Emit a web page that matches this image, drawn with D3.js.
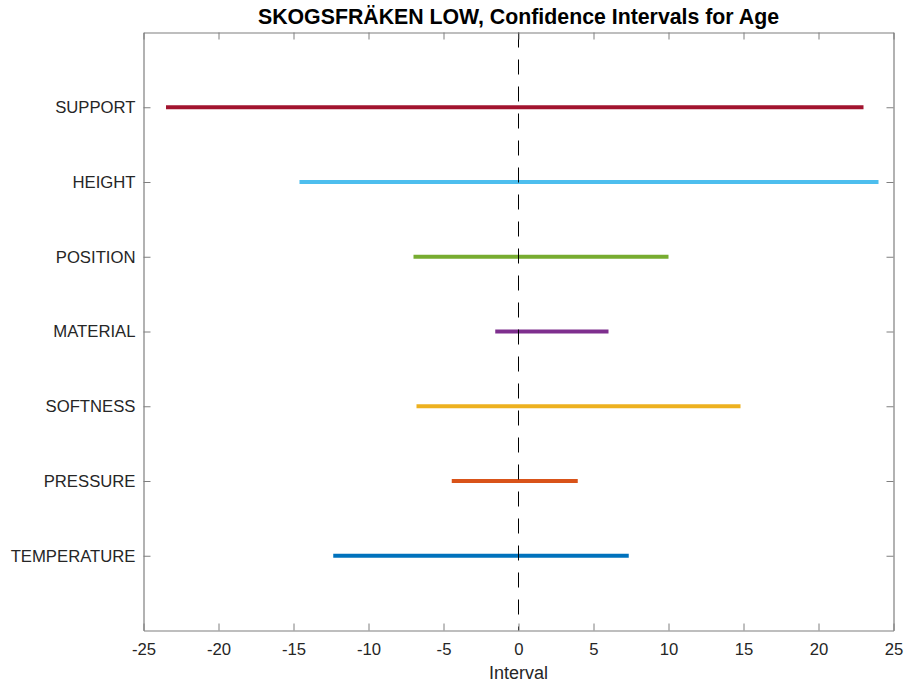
<!DOCTYPE html>
<html><head><meta charset="utf-8">
<script src="https://cdn.jsdelivr.net/npm/d3@7"></script>
<style>body{margin:0;background:#fff;} svg{display:block;font-family:"Liberation Sans",Arial,Helvetica,sans-serif;}</style>
</head><body>
<svg id="chart" width="906" height="684"></svg>
<script>
const categories = ["TEMPERATURE","PRESSURE","SOFTNESS","MATERIAL","POSITION","HEIGHT","SUPPORT"];
const lowerBounds = [-12.35, -4.45, -6.8, -1.55, -7.0, -14.6, -23.5];
const upperBounds = [7.35, 3.95, 14.8, 6.0, 10.0, 24.0, 23.0];
const colors = ["#0072BD","#D95319","#EDB120","#7E2F8E","#77AC30","#4DBEEE","#A2142F"];
const xTicks = [-25,-20,-15,-10,-5,0,5,10,15,20,25];
const titleText = "SKOGSFRÄKEN LOW, Confidence Intervals for Age";
const xLabel = "Interval";

const svg = d3.select("#chart");
const L = 143.5, R = 893.5, T = 32.5, B = 630.5;
const x = d3.scaleLinear().domain([-25,25]).range([L,R]);
const y = d3.scaleLinear().domain([0,8]).range([B,T]);
const axisColor = "#7f7f7f", textColor = "#262626";

// intervals
const data = categories.map((c,i)=>({c, lo:lowerBounds[i], hi:upperBounds[i], col:colors[i], yv:i+1}));
svg.append("g").selectAll("line").data(data).join("line")
  .attr("x1",d=>x(d.lo)).attr("x2",d=>x(d.hi))
  .attr("y1",d=>y(d.yv)).attr("y2",d=>y(d.yv))
  .attr("stroke",d=>d.col).attr("stroke-width",4);

// zero dashed line
svg.append("line").attr("x1",x(0)).attr("x2",x(0)).attr("y1",T).attr("y2",B)
  .attr("stroke","#000").attr("stroke-width",1).attr("stroke-dasharray","15,12");

// axes
const tickLen = 7;
const fmt = d => String(d); // plain hyphen-minus like the reference
const xb = svg.append("g").attr("transform",`translate(0,${B})`)
  .call(d3.axisBottom(x).tickValues(xTicks).tickSizeInner(-tickLen).tickSizeOuter(0).tickPadding(13).tickFormat(fmt));
const xt = svg.append("g").attr("transform",`translate(0,${T})`)
  .call(d3.axisTop(x).tickValues(xTicks).tickSizeInner(-tickLen).tickSizeOuter(0).tickFormat(""));
const yl = svg.append("g").attr("transform",`translate(${L},0)`)
  .call(d3.axisLeft(y).tickValues(d3.range(1,8)).tickSizeInner(-tickLen).tickSizeOuter(0).tickPadding(8).tickFormat(d=>categories[d-1]));
const yr = svg.append("g").attr("transform",`translate(${R},0)`)
  .call(d3.axisRight(y).tickValues(d3.range(1,8)).tickSizeInner(-tickLen).tickSizeOuter(0).tickFormat(""));
[xb,xt,yl,yr].forEach(g=>{
  g.selectAll("path.domain").attr("stroke",axisColor).attr("stroke-width",1.2);
  g.selectAll(".tick line").attr("stroke",axisColor).attr("stroke-width",1);
  g.selectAll("text").attr("fill",textColor).style("font-size","16.7px").style("font-family","'Liberation Sans',Arial,sans-serif");
});
xb.selectAll("text").attr("dy","0.71em");

// title & label
svg.append("text").attr("x",(L+R)/2).attr("y",24).attr("text-anchor","middle")
  .attr("fill","#000").style("font-weight","bold").style("font-size","21.3px").text(titleText);
svg.append("text").attr("x",x(0)).attr("y",679).attr("text-anchor","middle")
  .attr("fill",textColor).style("font-size","18px").text(xLabel);
</script>
</body></html>
